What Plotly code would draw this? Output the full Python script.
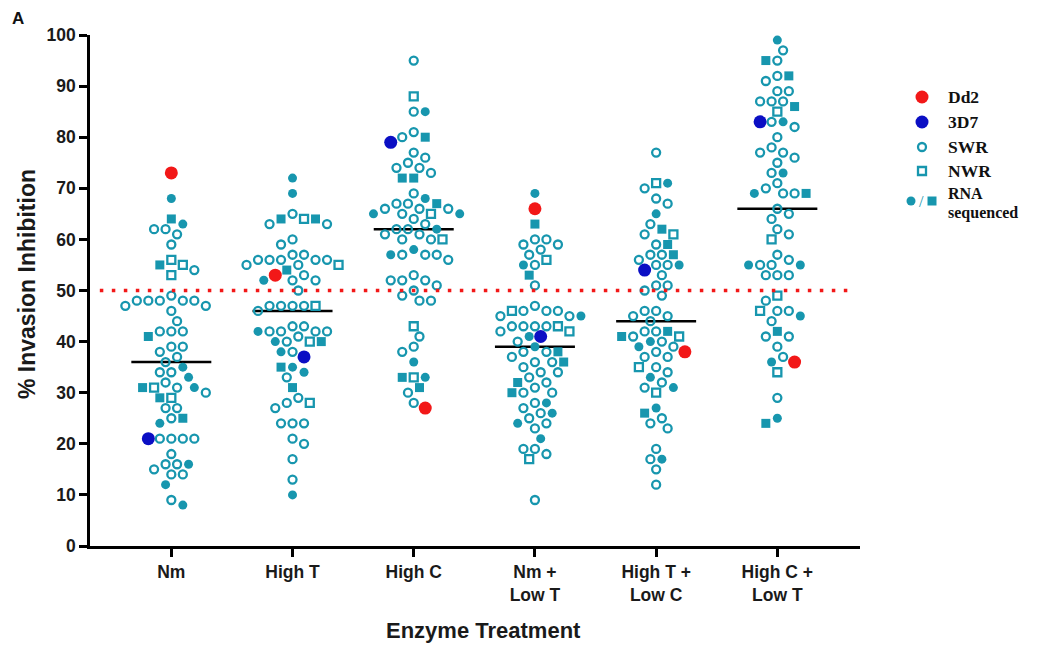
import plotly.graph_objects as go

# ---------------- data ----------------
categories = ["Nm", "High T", "High C", "Nm +<br>Low T", "High T +<br>Low C", "High C +<br>Low T"]

dd2_values = [73, 53, 27, 66, 38, 36]
d3d7_values = [21, 37, 79, 41, 54, 83]
group_means = [36, 46, 62, 39, 44, 66]
threshold = 50

swr_nm = [62, 62, 61, 59, 54, 49, 48, 48, 48, 48, 48, 47, 47, 46, 44, 42, 42, 42, 39, 39, 38, 37, 36, 34, 34,
          32, 31, 30, 27, 27, 25, 21, 21, 21, 21, 18, 16, 16, 15, 14, 14, 9]
nwr_nm = [56, 55, 53, 31, 29]
rna_circ_nm = [68, 63, 35, 33, 31, 24, 16, 12, 8]
rna_sq_nm = [64, 55, 41, 31, 29, 25]

swr_hight = [65, 63, 63, 60, 59, 57, 57, 56, 56, 56, 56, 56, 55, 55, 53, 52, 52, 50, 47, 47, 47, 47, 46, 43, 43,
             42, 42, 42, 42, 41, 40, 38, 33, 29, 28, 27, 24, 24, 24, 21, 20, 17, 13]
nwr_hight = [64, 55, 47, 40, 28]
rna_circ_hight = [72, 69, 52, 42, 40, 38, 35, 34, 10]
rna_sq_hight = [64, 64, 54, 40, 35, 31]

swr_highc = [95, 85, 81, 80, 77, 76, 75, 74, 74, 73, 69, 67, 67, 66, 66, 66, 65, 64, 63, 62, 62, 61, 61, 60, 60,
             57, 57, 57, 56, 53, 52, 52, 52, 51, 50, 49, 48, 48, 41, 39, 38, 30, 28]
nwr_highc = [88, 65, 60, 43, 33]
rna_circ_highc = [85, 68, 65, 65, 62, 58, 57, 36, 33]
rna_sq_highc = [80, 72, 72, 67, 33, 31]

swr_nm_lowt = [60, 60, 59, 59, 58, 57, 55, 51, 47, 46, 46, 46, 45, 45, 43, 43, 43, 43, 42, 40, 38, 38, 37, 36, 36,
               35, 34, 34, 33, 32, 31, 30, 30, 28, 27, 26, 25, 24, 23, 19, 19, 18, 9]
nwr_nm_lowt = [56, 46, 43, 42, 17]
rna_circ_nm_lowt = [69, 55, 45, 41, 39, 28, 26, 24, 21]
rna_sq_nm_lowt = [63, 53, 38, 36, 32, 30]

swr_hight_lowc = [77, 70, 68, 67, 63, 61, 59, 57, 57, 56, 55, 55, 53, 51, 51, 50, 49, 46, 46, 45, 45, 44, 42, 42,
                  41, 40, 39, 38, 37, 37, 35, 34, 32, 31, 25, 24, 23, 19, 17, 15, 12]
nwr_hight_lowc = [71, 61, 41, 35, 30]
rna_circ_hight_lowc = [71, 65, 55, 40, 39, 33, 31, 27, 17]
rna_sq_hight_lowc = [62, 59, 57, 42, 41, 26]

swr_highc_lowt = [97, 95, 92, 91, 89, 89, 87, 87, 87, 83, 82, 80, 78, 77, 77, 76, 75, 73, 71, 70, 69, 69, 66, 65,
                  64, 62, 61, 57, 56, 55, 55, 53, 53, 53, 48, 46, 46, 44, 41, 41, 39, 37, 29]
nwr_highc_lowt = [85, 60, 49, 46, 34]
rna_circ_highc_lowt = [99, 83, 73, 69, 55, 55, 45, 36, 25]
rna_sq_highc_lowt = [95, 92, 86, 69, 42, 24]

swr_groups = [swr_nm, swr_hight, swr_highc, swr_nm_lowt, swr_hight_lowc, swr_highc_lowt]
nwr_groups = [nwr_nm, nwr_hight, nwr_highc, nwr_nm_lowt, nwr_hight_lowc, nwr_highc_lowt]
rna_circ_groups = [rna_circ_nm, rna_circ_hight, rna_circ_highc, rna_circ_nm_lowt, rna_circ_hight_lowc,
                   rna_circ_highc_lowt]
rna_sq_groups = [rna_sq_nm, rna_sq_hight, rna_sq_highc, rna_sq_nm_lowt, rna_sq_hight_lowc, rna_sq_highc_lowt]

# ---------------- layout constants (reference-pixel based) ----------------
OFF = 8                     # page body margin of the html page
W, H = 1043 - OFF, 647 - OFF
REF_LEFT, REF_TOP, REF_BOTTOM, REF_RIGHT = 90, 35, 546, 860
ML = REF_LEFT - OFF
MT = REF_TOP - OFF
MB = H - (REF_BOTTOM - OFF)
PLOT_RIGHT = REF_RIGHT - OFF
X_RANGE = [-0.671, 5.682]
Y_RANGE = [0, 100]
PW = W - ML
PH = H - MT - MB
XPX = (PLOT_RIGHT - ML) / (X_RANGE[1] - X_RANGE[0])
YPX = PH / (Y_RANGE[1] - Y_RANGE[0])
DIAM = 11.5

TEAL = "#1796AE"
RED = "#F21818"
BLUE = "#0B0FC4"
TXT = "#1a1a1a"


def px_x(p):
    """reference pixel x -> paper fraction"""
    return (p - OFF - ML) / PW


def px_y(p):
    """reference pixel y (from top) -> paper fraction"""
    return (H - MB - (p - OFF)) / PH


def swarm(values):
    """Beeswarm horizontal offsets (in category units) for the given values."""
    order = sorted(range(len(values)), key=lambda j: -values[j])
    placed = []
    offs = [0.0] * len(values)
    toggle = 1
    for j in order:
        y = values[j] * YPX
        near = [(px, py) for px, py in placed if abs(py - y) < DIAM]
        best = None
        for k in range(0, 60):
            cands = [0] if k == 0 else [toggle * k, -toggle * k]
            for c in cands:
                dx = c * DIAM / 2
                if all((dx - px) ** 2 + (y - py) ** 2 >= (DIAM * 0.97) ** 2 for px, py in near):
                    best = dx
                    break
            if best is not None:
                break
        if best != 0:
            toggle = -toggle
        placed.append((best, y))
        offs[j] = best / XPX
    return offs


kinds = ["swr", "nwr", "rna_c", "rna_s", "dd2", "d3d7"]
xs = {k: [] for k in kinds}
ys = {k: [] for k in kinds}
for i in range(len(categories)):
    pts = ([("swr", v) for v in swr_groups[i]] + [("nwr", v) for v in nwr_groups[i]] +
           [("rna_c", v) for v in rna_circ_groups[i]] + [("rna_s", v) for v in rna_sq_groups[i]] +
           [("dd2", dd2_values[i]), ("d3d7", d3d7_values[i])])
    offs = swarm([v for _, v in pts])
    for (k, v), o in zip(pts, offs):
        xs[k].append(i + o)
        ys[k].append(v)

fig = go.Figure()

# mean lines
mx, my = [], []
for i, m in enumerate(group_means):
    mx += [i - 0.33, i + 0.33, None]
    my += [m, m, None]
fig.add_trace(go.Scatter(x=mx, y=my, mode="lines", line=dict(color="black", width=2.5),
                         showlegend=False, hoverinfo="skip"))

styles = {
    "swr": dict(symbol="circle-open", size=8, color=TEAL, line=dict(color=TEAL, width=2.3)),
    "nwr": dict(symbol="square-open", size=8, color=TEAL, line=dict(color=TEAL, width=2.3)),
    "rna_c": dict(symbol="circle", size=9, color=TEAL, line=dict(width=0)),
    "rna_s": dict(symbol="square", size=9, color=TEAL, line=dict(width=0)),
    "dd2": dict(symbol="circle", size=13, color=RED, line=dict(width=0)),
    "d3d7": dict(symbol="circle", size=13, color=BLUE, line=dict(width=0)),
}
for k in kinds:
    fig.add_trace(go.Scatter(x=xs[k], y=ys[k], mode="markers", marker=styles[k],
                             cliponaxis=False, showlegend=False, hoverinfo="y"))

# 50% threshold dotted line
fig.add_shape(type="line", xref="x", yref="y", x0=-0.59, x1=5.64, y0=threshold, y1=threshold,
              line=dict(color=RED, width=3.5, dash="3.5px,8.5px"), layer="above")

# ---------------- custom legend on a helper axis (reference-pixel coords) ----------------
leg_x0 = 0.83
X2_RANGE = [ML + leg_x0 * PW + OFF, W + OFF]
Y2_RANGE = [REF_BOTTOM, REF_TOP]
legend_items = [
    ("circle", 13, RED, 0, 922, 97),
    ("circle", 13, BLUE, 0, 922, 122),
    ("circle-open", 8, TEAL, 2.3, 922, 147),
    ("square-open", 8, TEAL, 2.3, 922, 171),
    ("circle", 9, TEAL, 0, 911, 201),
    ("square", 9, TEAL, 0, 932, 201),
]
for sym, sz, col, lw, lx, ly in legend_items:
    fig.add_trace(go.Scatter(x=[lx], y=[ly], mode="markers", xaxis="x2", yaxis="y2",
                             showlegend=False, hoverinfo="skip", cliponaxis=False,
                             marker=dict(symbol=sym, size=sz, color=col, line=dict(color=col, width=lw))))

leg_font = dict(family="Liberation Serif", size=17.5, color="#111", weight="bold")
for txt, yy in [("Dd2", 97), ("3D7", 122), ("SWR", 147), ("NWR", 171)]:
    fig.add_annotation(x=946, y=yy, xref="x2", yref="y2", text=txt, showarrow=False,
                       xanchor="left", yanchor="middle", font=leg_font)
rna_font = dict(family="Liberation Serif", size=16, color="#111", weight="bold")
fig.add_annotation(x=946, y=193, xref="x2", yref="y2", text="RNA", showarrow=False,
                   xanchor="left", yanchor="middle", font=rna_font)
fig.add_annotation(x=946, y=213, xref="x2", yref="y2", text="sequenced", showarrow=False,
                   xanchor="left", yanchor="middle", font=rna_font)
fig.add_annotation(x=921.5, y=201, xref="x2", yref="y2", text="/", showarrow=False,
                   xanchor="center", yanchor="middle", font=dict(family="Liberation Serif", size=16, color=TEAL))

# panel label and axis titles
fig.add_annotation(x=px_x(18), y=px_y(18), xref="paper", yref="paper", text="A", showarrow=False,
                   xanchor="center", yanchor="middle",
                   font=dict(family="Liberation Sans", size=17, color="#111", weight="bold"))
fig.add_annotation(x=px_x(27), y=px_y(284), xref="paper", yref="paper", text="% Invasion Inhibition",
                   showarrow=False, textangle=-90, xanchor="center", yanchor="middle",
                   font=dict(family="Liberation Sans", size=23, color=TXT, weight="bold"))
fig.add_annotation(x=px_x(483), y=px_y(630), xref="paper", yref="paper", text="Enzyme Treatment",
                   showarrow=False, xanchor="center", yanchor="middle",
                   font=dict(family="Liberation Sans", size=22, color=TXT, weight="bold"))

fig.update_layout(
    width=W, height=H,
    margin=dict(l=ML, r=0, t=MT, b=MB, autoexpand=False),
    paper_bgcolor="white", plot_bgcolor="white",
    font=dict(family="Liberation Sans", color=TXT),
    xaxis=dict(domain=[0, (PLOT_RIGHT - ML) / PW], range=X_RANGE, automargin=False,
               tickvals=list(range(len(categories))), ticktext=categories,
               ticks="outside", ticklen=8, tickwidth=2.5, tickcolor="black",
               showline=True, linewidth=2.5, linecolor="black", showgrid=False, zeroline=False,
               tickfont=dict(family="Liberation Sans", size=17.5, color=TXT, weight="bold")),
    yaxis=dict(range=Y_RANGE, tickvals=list(range(0, 101, 10)), automargin=False,
               ticks="outside", ticklen=8, tickwidth=2.5, tickcolor="black",
               showline=True, linewidth=2.5, linecolor="black", showgrid=False, zeroline=False,
               tickfont=dict(family="Liberation Sans", size=17.5, color=TXT, weight="bold")),
    xaxis2=dict(domain=[leg_x0, 1.0], range=X2_RANGE, anchor="y2",
                visible=False, fixedrange=True),
    yaxis2=dict(domain=[0, 1], range=Y2_RANGE, anchor="x2", visible=False, fixedrange=True),
)

fig.write_html("out.html")
